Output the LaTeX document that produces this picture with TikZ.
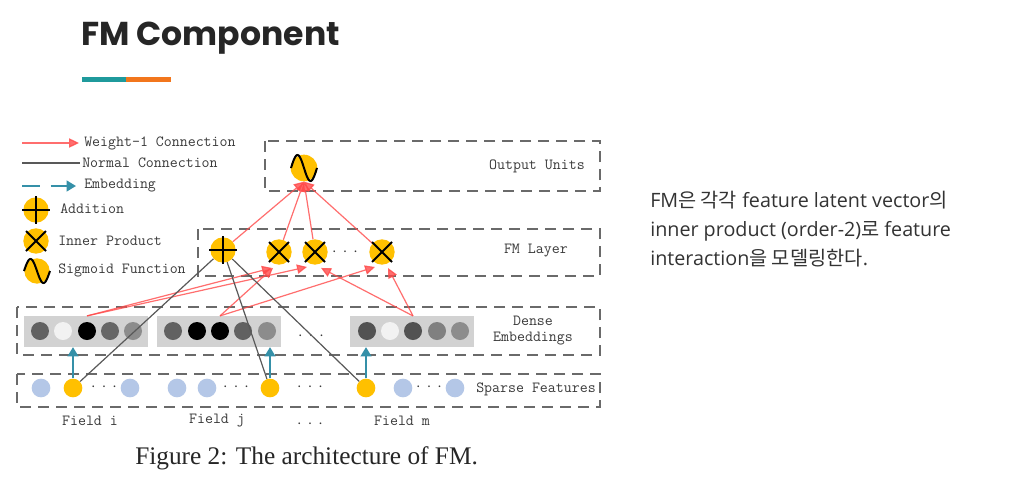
\documentclass[tikz,border=0pt]{standalone}
\usepackage{fontspec}
\setmainfont{Liberation Serif}
\newfontfamily\mono{Latin Modern Mono}
\newfontfamily\titlefont{Poppins}
\newfontfamily\krfont{Noto Sans CJK KR}
\newfontfamily\latinfont{Open Sans}
\usetikzlibrary{arrows.meta}
\definecolor{yel}{HTML}{FFC000}
\definecolor{lblue}{HTML}{B4C7E7}
\definecolor{tealA}{HTML}{3590A8}
\definecolor{redl}{HTML}{FF4A4A}
\definecolor{boxgray}{HTML}{6A6A6A}
\definecolor{embgray}{HTML}{D2D2D2}
\definecolor{txt}{HTML}{3A3A3A}
\definecolor{barteal}{HTML}{1F9A9C}
\definecolor{barorange}{HTML}{F2761C}
\newcommand{\ddd}{·\hspace{2pt}·\hspace{2pt}·}
\newcommand{\K}[1]{{\krfont #1}}
\tikzset{
  lbl/.style={font=\mono\fontsize{11.6}{13}\selectfont, text=txt, inner sep=0pt},
  dbox/.style={draw=boxgray, line width=1.8pt, dash pattern=on 8.5pt off 5pt},
  unit/.style={circle, fill=yel, minimum size=19pt, inner sep=0pt},
  sym/.style={line width=1.5pt, black},
  wline/.style={draw=redl, opacity=0.8, line width=0.9pt, -{Triangle[length=7.5pt,width=7pt]}},
  nline/.style={draw=black!65, line width=0.9pt},
  eline/.style={draw=tealA, line width=1.5pt, -{Triangle[length=7pt,width=8pt]}},
  emb/.style={fill=embgray, minimum width=93pt, minimum height=23pt, inner sep=0pt},
  ec/.style={circle, minimum size=13.5pt, inner sep=0pt},
  sp/.style={circle, minimum size=14pt, inner sep=0pt, fill=lblue},
  spy/.style={circle, minimum size=14pt, inner sep=0pt, fill=yel},
}
\begin{document}
\begin{tikzpicture}[x=0.75pt, y=-0.75pt]
\useasboundingbox[fill=white] (0,0) rectangle (1024,482);

% title
\node[anchor=west, inner sep=0pt, font=\titlefont\bfseries\fontsize{24.8}{28}\selectfont, text=black!85] (title) at (81,38) {FM Component};
\fill[barteal] (82,77) rectangle (126,82);
\fill[barorange] (126,77) rectangle (171,82);

% legend
\coordinate (lw1) at (22,143); \coordinate (lw2) at (79,143);
\coordinate (ln1) at (22,163); \coordinate (ln2) at (80,163);
\coordinate (le1) at (22,186); \coordinate (le2) at (76,186);
\draw[wline] (lw1) -- (lw2);
\draw[nline] (ln1) -- (ln2);
\draw[eline, dash pattern=on 13.5pt off 8pt] (le1) -- (le2);
\node[lbl, anchor=west] (tw) at (84,143) {Weight-1 Connection};
\node[lbl, anchor=west] (tn) at (82,163) {Normal Connection};
\node[lbl, anchor=west] (te) at (84,186) {Embedding};
\node[unit] (ladd) at (36,210) {};
\draw[sym] (ladd.center) ++(-14,0) -- ++(28,0);
\draw[sym] (ladd.center) ++(0,-14) -- ++(0,28);
\node[lbl, anchor=west] (tadd) at (60,209) {Addition};
\node[unit] (linn) at (36,241) {};
\draw[sym] (linn.center) ++(-10,-10) -- ++(20,20);
\draw[sym] (linn.center) ++(10,-10) -- ++(-20,20);
\node[lbl, anchor=west] (tinn) at (58,241) {Inner Product};
\node[unit] (lsig) at (37,271) {};
\draw[sym, shift={(lsig.center)}] plot[domain=0:360, samples=40, smooth] ({-13+\x/13.85}, {-12*sin(\x)});
\node[lbl, anchor=west] (tsig) at (58,270) {Sigmoid Function};

% dashed boxes
\draw[dbox] (265,141) rectangle (600,191);
\draw[dbox] (198,229) rectangle (600,276);
\draw[dbox] (17,307) rectangle (600,355);
\draw[dbox] (17,374) rectangle (600,407);
\node[lbl, anchor=east] (tout) at (585,166) {Output Units};
\node[lbl, anchor=east] (tfm) at (568,251) {FM Layer};
\node[lbl, align=center] (tdense) at (533,331) {Dense\\[-1pt]Embeddings};
\node[lbl, anchor=east] (tsparse) at (596,389) {Sparse Features};

% embeddings
\node[emb] (embi) at (85.5,331.5) {};
\node[emb] (embj) at (218.5,331.5) {};
\node[emb] (embm) at (411.5,331.5) {};
\node[ec, fill=black!62] (ei1) at (40,331) {};
\node[ec, fill=black!5] (ei2) at (63,331) {};
\node[ec, fill=black] (ei3) at (87,331) {};
\node[ec, fill=black!60] (ei4) at (110,331) {};
\node[ec, fill=black!45] (ei5) at (133,331) {};
\node[ec, fill=black!62] (ej1) at (173,331) {};
\node[ec, fill=black] (ej2) at (197,331) {};
\node[ec, fill=black] (ej3) at (220,331) {};
\node[ec, fill=black!62] (ej4) at (243,331) {};
\node[ec, fill=black!45] (ej5) at (267,331) {};
\node[ec, fill=black!68] (em1) at (367,331) {};
\node[ec, fill=black!5] (em2) at (390,331) {};
\node[ec, fill=black!68] (em3) at (413,331) {};
\node[ec, fill=black!50] (em4) at (437,331) {};
\node[ec, fill=black!45] (em5) at (460,331) {};
\node[lbl] (edots) at (311,338) {\ddd};

% sparse features
\node[sp] (si1) at (41,388) {};
\node[spy] (syi) at (73,388) {};
\node[lbl] (sdi) at (104,389) {\ddd};
\node[sp] (si2) at (130,388) {};
\node[sp] (sj1) at (177,388) {};
\node[sp] (sj2) at (207,388) {};
\node[lbl] (sdj) at (236,389) {\ddd};
\node[spy] (syj) at (270,388) {};
\node[lbl] (sdx) at (310,389) {\ddd};
\node[spy] (sym) at (366,388) {};
\node[sp] (sm1) at (403,388) {};
\node[lbl] (sdm) at (429,389) {\ddd};
\node[sp] (sm2) at (455,388) {};

% field labels
\node[lbl] (fi) at (90,421) {Field i};
\node[lbl] (fj) at (217,421) {Field j};
\node[lbl] (fd) at (310,426) {\ddd};
\node[lbl] (fm) at (402,421) {Field m};

% FM layer
\node[unit] (add) at (223,250) {};
\node[unit] (x1) at (279,252) {};
\node[unit] (x2) at (315,252) {};
\node[unit] (x3) at (382,252) {};
\node[lbl] (fmdots) at (345,254) {\ddd};
\node[unit, minimum size=20pt] (sig) at (304,168) {};

% connections: weight-1 from embeddings to inner products
\coordinate (ti) at (ei3 |- embi.north);
\coordinate (tj) at (ej3 |- embj.north);
\coordinate (tm) at (em3 |- embm.north);
\draw[wline] (ti) -- ([shift={(-7,3)}]x1.south);
\draw[wline] (ti) -- ([shift={(-8,2)}]x2.south);
\draw[wline] (tj) -- ([shift={(-6,3)}]x1.south);
\draw[wline] (tj) -- ([shift={(-7,2)}]x3.south);
\draw[wline] (tm) -- ([shift={(6,3)}]x2.south);
\draw[wline] (tm) -- ([shift={(6,3)}]x3.south);

% normal connections from sparse to addition
\draw[nline] (syi) -- (add);
\draw[nline] (syj) -- (add);
\draw[nline] (sym) -- (add);

% embedding arrows
\draw[eline] (syi.north) -- (syi.north |- embi.south);
\draw[eline] (syj.north) -- (syj.north |- embj.south);
\draw[eline] (sym.north) -- (sym.north |- embm.south);

% FM layer to output
\draw[wline] (add) -- (sig.south);
\draw[wline] (x1) -- (sig.south);
\draw[wline] (x2) -- (sig.south);
\draw[wline] (x3) -- (sig.south);

% symbols on top
\draw[sym] (add.center) ++(-14,0) -- ++(28,0);
\draw[sym] (add.center) ++(0,-14) -- ++(0,28);
\foreach \n in {x1,x2,x3}{
  \draw[sym] (\n.center) ++(-10,-10) -- ++(20,20);
  \draw[sym] (\n.center) ++(10,-10) -- ++(-20,20);
}
\draw[sym, shift={(sig.center)}] plot[domain=0:360, samples=40, smooth] ({-13+\x/13.85}, {-13*sin(\x)});

% caption
\node[anchor=west, inner sep=0pt, font=\fontsize{19}{22}\selectfont, text=black!85] (cap) at (135,458) {Figure 2: The architecture of FM.};

% side text
\node[anchor=north west, inner sep=0pt, align=left, font=\latinfont\fontsize{14.8}{21.8}\selectfont, text=black!80] (side) at (650,191)
 {FM\K{은 각각} feature latent vector\K{의}\\inner product (order-2)\K{로} feature\\interaction\K{을 모델링한다}.};
\end{tikzpicture}
\end{document}
